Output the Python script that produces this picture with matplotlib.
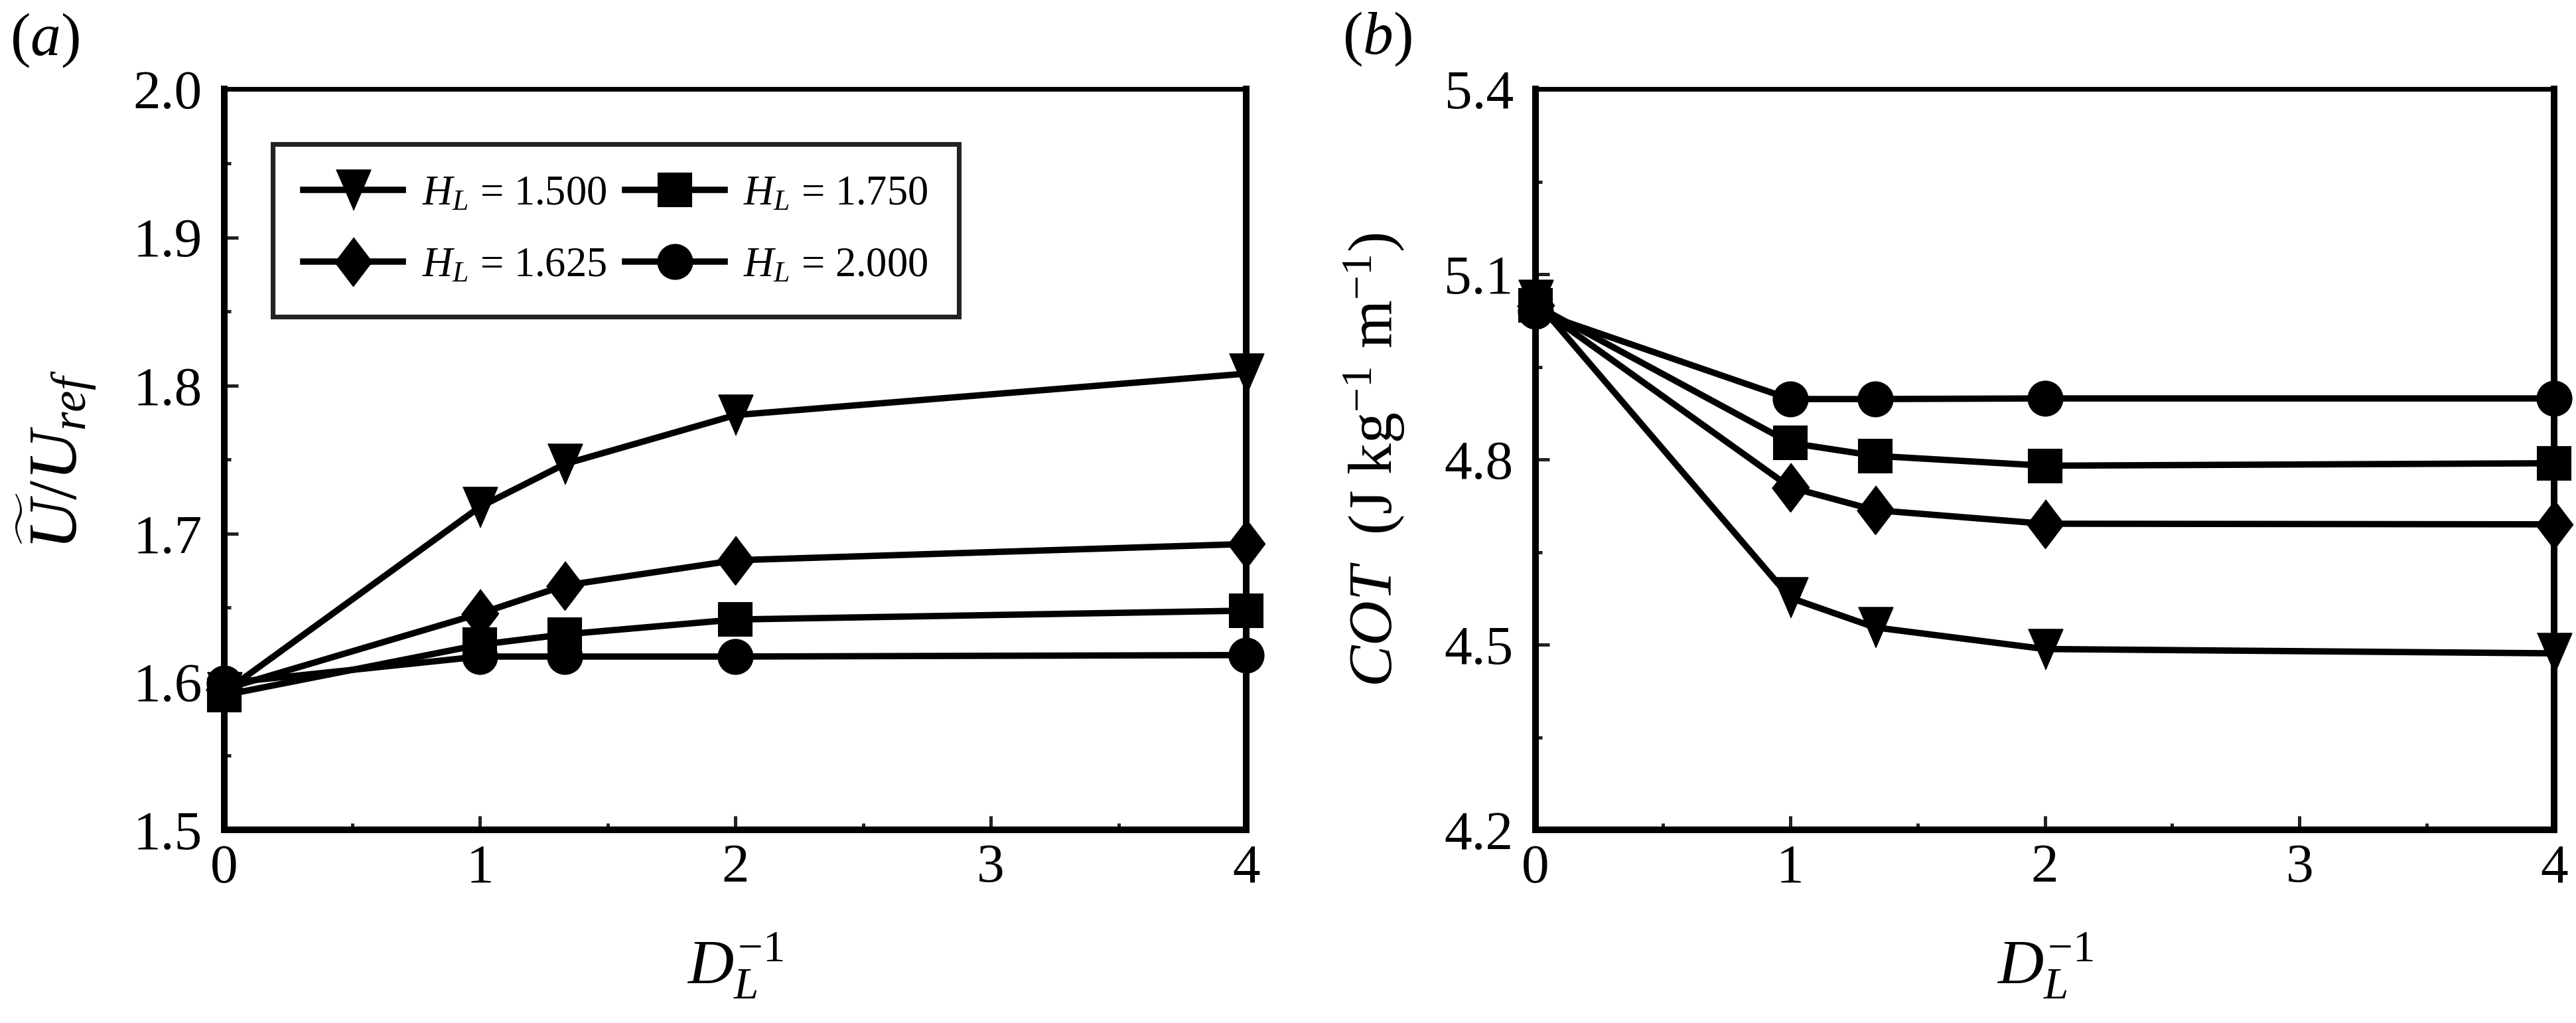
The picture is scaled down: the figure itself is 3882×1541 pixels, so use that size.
import matplotlib
matplotlib.use("Agg")
import matplotlib.pyplot as plt
from matplotlib.ticker import MultipleLocator, FormatStrFormatter

plt.rcParams['font.family'] = ['Liberation Serif', 'DejaVu Serif']
plt.rcParams['mathtext.fontset'] = 'custom'
plt.rcParams['mathtext.rm'] = 'Liberation Serif'
plt.rcParams['mathtext.it'] = 'Liberation Serif:italic'
plt.rcParams['mathtext.bf'] = 'Liberation Serif:bold'

# ---- data ----
inv_dl = [0, 1, 1.333, 2, 4]
hl_labels = ['1.500', '1.625', '1.750', '2.000']

# (a) U~/U_ref
u_150 = [1.593, 1.718, 1.747, 1.780, 1.808]
u_1625 = [1.595, 1.646, 1.665, 1.682, 1.693]
u_175 = [1.591, 1.625, 1.632, 1.642, 1.648]
u_200 = [1.599, 1.617, 1.617, 1.617, 1.618]

# (b) COT
cot_150 = [5.058, 4.576, 4.528, 4.493, 4.486]
cot_1625 = [5.050, 4.755, 4.718, 4.696, 4.695]
cot_175 = [5.050, 4.827, 4.806, 4.790, 4.794]
cot_200 = [5.040, 4.898, 4.898, 4.899, 4.899]

# marker shapes / sizes
tri = [(-0.86, 1), (0.86, 1), (0, -1)]
dia = [(0, 1), (0.76, 0), (0, -1), (-0.76, 0)]
styles = [(tri, 14.5), (dia, 17.5), ('s', 11.8), ('o', 12.5)]

fig = plt.figure(figsize=(3882 / 300, 1541 / 300), dpi=300)
ax_a = fig.add_axes([0.0871, 0.1888, 0.3967, 0.724])
ax_b = fig.add_axes([0.5961, 0.1888, 0.3954, 0.724])


def style_axes(ax):
    for side in ['left', 'bottom', 'right']:
        ax.spines[side].set_linewidth(2.4)
    ax.spines['top'].set_linewidth(1.7)
    ax.tick_params(which='both', direction='in', top=False, right=False,
                   width=1.2, color='#222222', labelsize=20)
    ax.tick_params(which='major', length=5)
    ax.tick_params(which='minor', length=2.4)
    ax.tick_params(axis='x', pad=5)
    ax.tick_params(axis='y', pad=8)
    ax.set_xlim(0, 4)
    ax.xaxis.set_major_locator(MultipleLocator(1))
    ax.xaxis.set_minor_locator(MultipleLocator(0.5))
    ax.set_xlabel(r'$D_L^{-1}$', fontsize=23, va='center')
    ax.xaxis.set_label_coords(0.5, -0.184)


series_a = [u_150, u_1625, u_175, u_200]
series_b = [cot_150, cot_1625, cot_175, cot_200]

for ys, lab, (mk, ms) in zip(series_a, hl_labels, styles):
    ax_a.plot(inv_dl, ys, color='k', lw=2.3, marker=mk, ms=ms, mfc='k', mec='k',
              mew=0.5, clip_on=False, zorder=3, label=r'$H_L$ = ' + lab)
for ys, lab, (mk, ms) in zip(series_b, hl_labels, styles):
    ax_b.plot(inv_dl, ys, color='k', lw=2.3, marker=mk, ms=ms, mfc='k', mec='k',
              mew=0.5, clip_on=False, zorder=3)

style_axes(ax_a)
ax_a.set_ylim(1.5, 2.0)
ax_a.yaxis.set_major_locator(MultipleLocator(0.1))
ax_a.yaxis.set_minor_locator(MultipleLocator(0.05))
ax_a.yaxis.set_major_formatter(FormatStrFormatter('%.1f'))
ax_a.set_ylabel(r'$\widetilde{U}/U_{ref}$', fontsize=25, va='center')
ax_a.yaxis.set_label_coords(-0.164, 0.5)

style_axes(ax_b)
ax_b.set_ylim(4.2, 5.4)
ax_b.yaxis.set_major_locator(MultipleLocator(0.3))
ax_b.yaxis.set_minor_locator(MultipleLocator(0.15))
ax_b.yaxis.set_major_formatter(FormatStrFormatter('%.1f'))
ax_b.set_ylabel(r'$COT$  (J kg$^{-1}$ m$^{-1}$)', fontsize=22.5, va='center')
ax_b.yaxis.set_label_coords(-0.158, 0.5)

leg = ax_a.legend(ncol=2, loc='upper left', bbox_to_anchor=(0.047, 0.9256),
                  borderaxespad=0, fontsize=15, handlelength=2.4,
                  handletextpad=0.45, columnspacing=0.45, labelspacing=0.8,
                  borderpad=0.75, frameon=True, fancybox=False,
                  edgecolor='#222222', framealpha=1)
leg.get_frame().set_linewidth(1.7)

fig.text(67 / 3882, 1 - 61 / 1541, r'($a$)', fontsize=22, ha='center', va='center')
fig.text(2075 / 3882, 1 - 59 / 1541, r'($b$)', fontsize=22, ha='center', va='center')

fig.savefig('out.png', dpi=300)
